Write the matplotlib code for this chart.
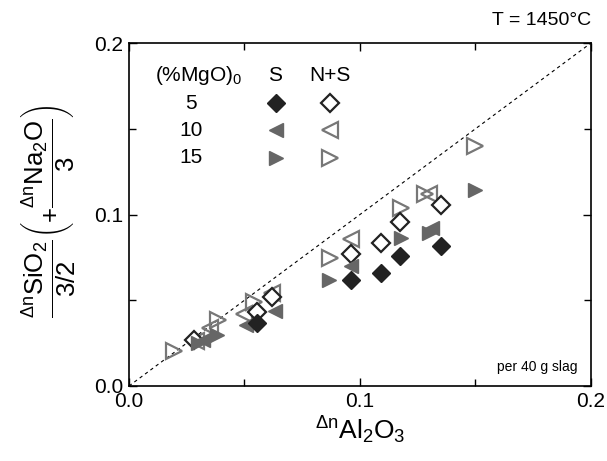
import matplotlib
matplotlib.use("Agg")
import matplotlib.pyplot as plt
from matplotlib.ticker import MultipleLocator

plt.rcParams['font.family'] = ['Liberation Sans', 'DejaVu Sans']
plt.rcParams['mathtext.fontset'] = 'custom'
plt.rcParams['mathtext.rm'] = 'Liberation Sans'
plt.rcParams['mathtext.it'] = 'Liberation Sans'
plt.rcParams['mathtext.bf'] = 'Liberation Sans:bold'

# ---- data ----
s5_x = [0.0555, 0.096, 0.109, 0.1175, 0.135]
s5_y = [0.037, 0.062, 0.066, 0.076, 0.0815]
ns5_x = [0.028, 0.0555, 0.062, 0.096, 0.109, 0.1175, 0.135]
ns5_y = [0.027, 0.043, 0.052, 0.077, 0.0835, 0.0955, 0.1055]
s10_x = [0.032, 0.0505, 0.063, 0.096, 0.131]
s10_y = [0.027, 0.0355, 0.044, 0.070, 0.092]
ns10_x = [0.029, 0.035, 0.0497, 0.062, 0.096, 0.130]
ns10_y = [0.026, 0.034, 0.042, 0.054, 0.086, 0.112]
s15_x = [0.030, 0.038, 0.0867, 0.1178, 0.1298, 0.150]
s15_y = [0.025, 0.0295, 0.062, 0.0864, 0.089, 0.1143]
ns15_x = [0.0196, 0.0387, 0.054, 0.0871, 0.1178, 0.128, 0.1497]
ns15_y = [0.0205, 0.0384, 0.049, 0.0748, 0.1038, 0.112, 0.140]

legend_rows = ["5", "10", "15"]
x_ticks = [0.0, 0.1, 0.2]
y_ticks = [0.0, 0.1, 0.2]

BLACK = '#222222'
GRAY = '#666666'
OGRAY = '#777777'

styles = [
    dict(marker='D', ms=9, mfc=BLACK, mec=BLACK, mew=1.0),           # S 5
    dict(marker='D', ms=9, mfc='white', mec=BLACK, mew=1.6),         # N+S 5
    dict(marker='<', ms=9.5, mfc=GRAY, mec=GRAY, mew=1.0),           # S 10
    dict(marker='<', ms=12, mfc='none', mec=OGRAY, mew=1.6),         # N+S 10
    dict(marker='>', ms=9.5, mfc=GRAY, mec=GRAY, mew=1.0),           # S 15
    dict(marker='>', ms=12, mfc='none', mec=OGRAY, mew=1.6),         # N+S 15
]
series = [(s5_x, s5_y), (ns5_x, ns5_y), (s10_x, s10_y), (ns10_x, ns10_y),
          (s15_x, s15_y), (ns15_x, ns15_y)]

fig = plt.figure(figsize=(6.07, 4.61), dpi=100)
ax = fig.add_axes([0.2125, 0.1627, 0.9736 - 0.2125, 0.9067 - 0.1627])

ax.plot([0, 0.2], [0, 0.2], color='black', lw=0.8, ls=(0, (3, 3)), zorder=1)

draw_order = [5, 3, 1, 4, 2, 0]
for i in draw_order:
    xs, ys = series[i]
    ax.plot(xs, ys, ls='none', zorder=3, **styles[i])

ax.set_xlim(0, 0.2)
ax.set_ylim(0, 0.2)
ax.set_xticks(x_ticks)
ax.set_yticks(y_ticks)
ax.set_xticklabels([f"{v:.1f}" for v in x_ticks])
ax.set_yticklabels([f"{v:.1f}" for v in y_ticks])
ax.xaxis.set_minor_locator(MultipleLocator(0.05))
ax.yaxis.set_minor_locator(MultipleLocator(0.05))
ax.tick_params(which='both', direction='in', top=True, right=True, labelsize=15,
               width=1.0, pad=4)
ax.tick_params(which='major', length=6)
ax.tick_params(which='minor', length=5)
for sp in ax.spines.values():
    sp.set_linewidth(1.2)

ax.set_xlabel(r'${}^{\Delta n}\mathrm{Al_2O_3}$', fontsize=19, labelpad=3)
ax.set_ylabel(r'$\dfrac{{}^{\Delta n}\mathrm{SiO_2}}{3/2}\left(+\dfrac{{}^{\Delta n}\mathrm{Na_2O}}{3}\right)$',
              fontsize=18.5)
ax.yaxis.set_label_coords(-0.11, 0.51)

fig.text(0.9736, 0.955, 'T = 1450°C', ha='right', va='center', fontsize=14)
ax.text(0.97, 0.055, 'per 40 g slag', transform=ax.transAxes, ha='right',
        va='center', fontsize=10)

# legend-like table
ax.text(0.057, 0.905, r'(%MgO)$_\mathrm{0}$', transform=ax.transAxes, ha='left',
        va='center', fontsize=15)
ax.text(0.317, 0.905, 'S', transform=ax.transAxes, ha='center', va='center', fontsize=15)
ax.text(0.436, 0.905, 'N+S', transform=ax.transAxes, ha='center', va='center', fontsize=15)
row_y = [0.825, 0.745, 0.665]
for r, lab in enumerate(legend_rows):
    ax.text(0.135, row_y[r], lab, transform=ax.transAxes, ha='center',
            va='center', fontsize=15)
    ax.plot([0.318], [row_y[r]], transform=ax.transAxes, ls='none',
            clip_on=False, **styles[2 * r])
    ax.plot([0.436], [row_y[r]], transform=ax.transAxes, ls='none',
            clip_on=False, **styles[2 * r + 1])

fig.savefig('out.png', dpi=100)
